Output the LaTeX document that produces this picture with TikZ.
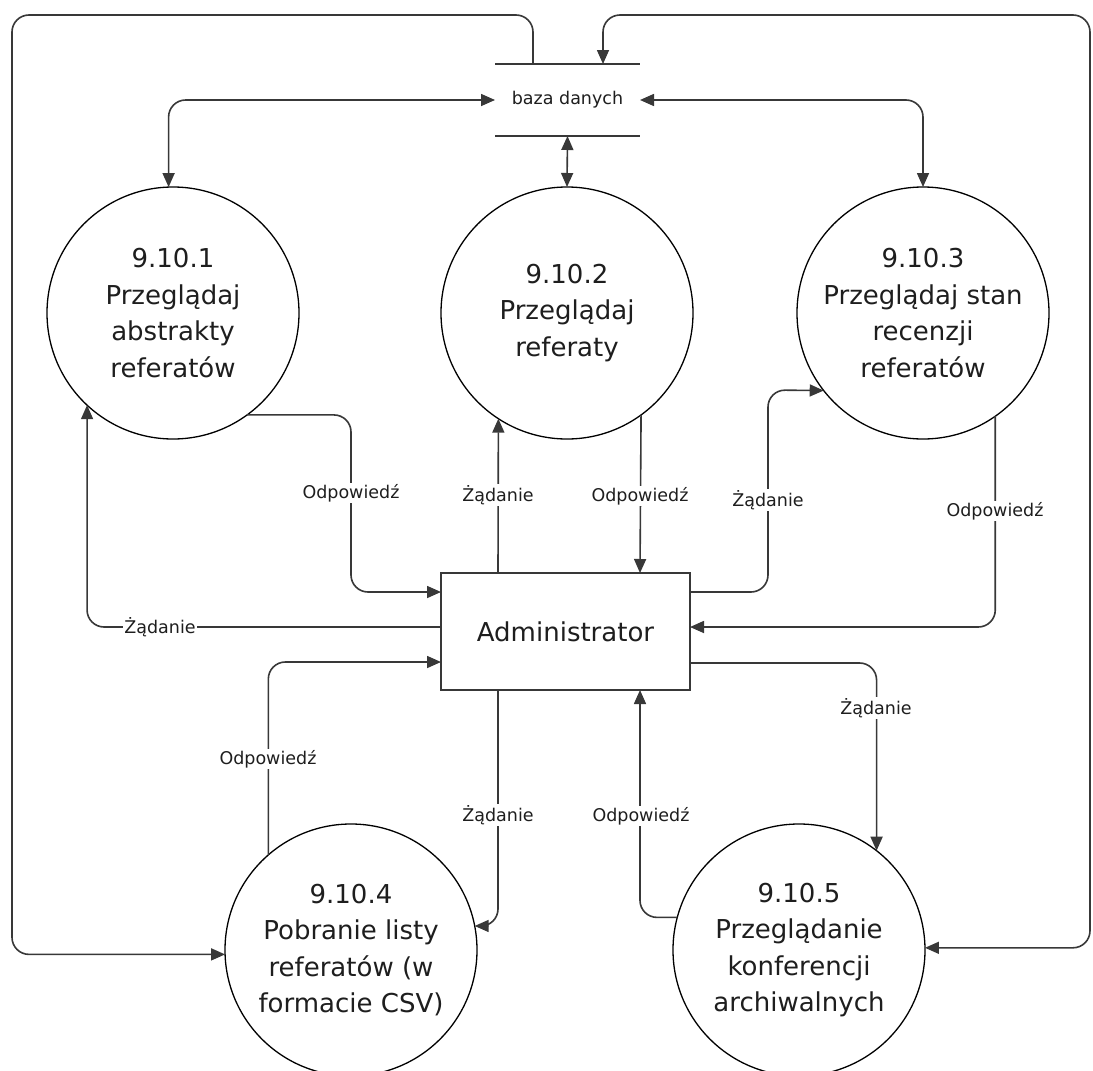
\documentclass[tikz,border=0pt]{standalone}
\usepackage{fontspec}
\setmainfont{DejaVu Sans}
\usetikzlibrary{arrows.meta}
\definecolor{linec}{HTML}{383838}
\definecolor{txtc}{HTML}{1E1E1E}
\tikzset{
  proc/.style={circle, draw=black, line width=1.3pt, minimum size=252pt, inner sep=0pt, outer sep=0pt,
    align=center, text=txtc, font={\fontsize{26pt}{36.5pt}\selectfont}},
  entity/.style={rectangle, draw=linec, line width=1.8pt, minimum width=249pt, minimum height=117pt,
    inner sep=0pt, outer sep=0pt, text=txtc, font={\fontsize{26pt}{31pt}\selectfont}},
  store/.style={rectangle, minimum width=145pt, minimum height=72pt, inner sep=0pt, outer sep=0pt,
    text=txtc, font={\fontsize{17.5pt}{21pt}\selectfont}},
  bar/.style={draw=linec, line width=2.2pt},
  flow/.style={draw=linec, line width=1.6pt, rounded corners=17pt,
    -{Triangle[length=14pt,width=12pt]}},
  biflow/.style={draw=linec, line width=1.6pt, rounded corners=17pt,
    {Triangle[length=14pt,width=12pt]}-{Triangle[length=14pt,width=12pt]}},
  lbl/.style={fill=white, inner sep=1.2pt, text=txtc, font={\fontsize{17.5pt}{21pt}\selectfont}}
}
\begin{document}
\begin{tikzpicture}[x=1pt,y=-1pt]
\useasboundingbox (0,0) rectangle (1093,1071);
\fill[white] (0,0) rectangle (1093,1071);

% nodes
\node[store] (db) at (567.5,100) {baza danych};
\draw[bar] (db.north west) -- (db.north east);
\draw[bar] (db.south west) -- (db.south east);

\node[proc] (p1) at (173,313) {9.10.1\\Przeglądaj\\abstrakty\\referatów};
\node[proc] (p2) at (567,313) {9.10.2\\Przeglądaj\\referaty};
\node[proc] (p3) at (923,313) {9.10.3\\Przeglądaj stan\\recenzji\\referatów};
\node[proc] (p4) at (351,950) {9.10.4\\Pobranie listy\\referatów (w\\formacie CSV)};
\node[proc] (p5) at (799,950) {9.10.5\\Przeglądanie\\konferencji\\archiwalnych};
\node[entity] (adm) at (565.5,631.5) {Administrator};

% database connections
\draw[biflow] (db.west) -| (p1.92.27);
\draw[biflow] (db.south) -- (p2.north);
\draw[biflow] (db.east) -| (p3.90.7);
\draw[flow] ([xshift=-34.5pt]db.north) |- (12,15) |- (p4.182.27);
\draw[biflow] (p5.1.36) -| (1090,15) -| ([xshift=35.5pt]db.north);

% administrator connections
\draw[flow] (p1.-54.04) -| (351,592) -- ([yshift=39.5pt]adm.west);
\draw[flow] ([yshift=4.5pt]adm.west) -| (p1.-133.03);
\draw[flow] ([xshift=-67.5pt]adm.north) -- (p2.-123.21);
\draw[flow] (p2.-54.60) -- ([xshift=74.5pt]adm.north);
\draw[flow] ([yshift=39.5pt]adm.east) -| (768,390) -- (p3.-142.32);
\draw[flow] (p3.-55.15) |- ([yshift=4.5pt]adm.east);
\draw[flow] ([yshift=-31.5pt]adm.east) -| (p5.52.32);
\draw[flow] (p5.165.29) -| ([xshift=74.5pt]adm.south);
\draw[flow] ([xshift=-67.5pt]adm.south) |- (p4.11.44);
\draw[flow] (p4.131.21) |- ([yshift=-30.5pt]adm.west);

% labels
\node[lbl] (l1) at (351,493) {Odpowiedź};
\node[lbl] (l2) at (160,627) {Żądanie};
\node[lbl] (l3) at (498,495) {Żądanie};
\node[lbl] (l4) at (640,496) {Odpowiedź};
\node[lbl] (l5) at (768,500) {Żądanie};
\node[lbl] (l6) at (995,511) {Odpowiedź};
\node[lbl] (l7) at (876,708) {Żądanie};
\node[lbl] (l8) at (641,816) {Odpowiedź};
\node[lbl] (l9) at (498,815) {Żądanie};
\node[lbl] (l10) at (268,759) {Odpowiedź};
\end{tikzpicture}
\end{document}
